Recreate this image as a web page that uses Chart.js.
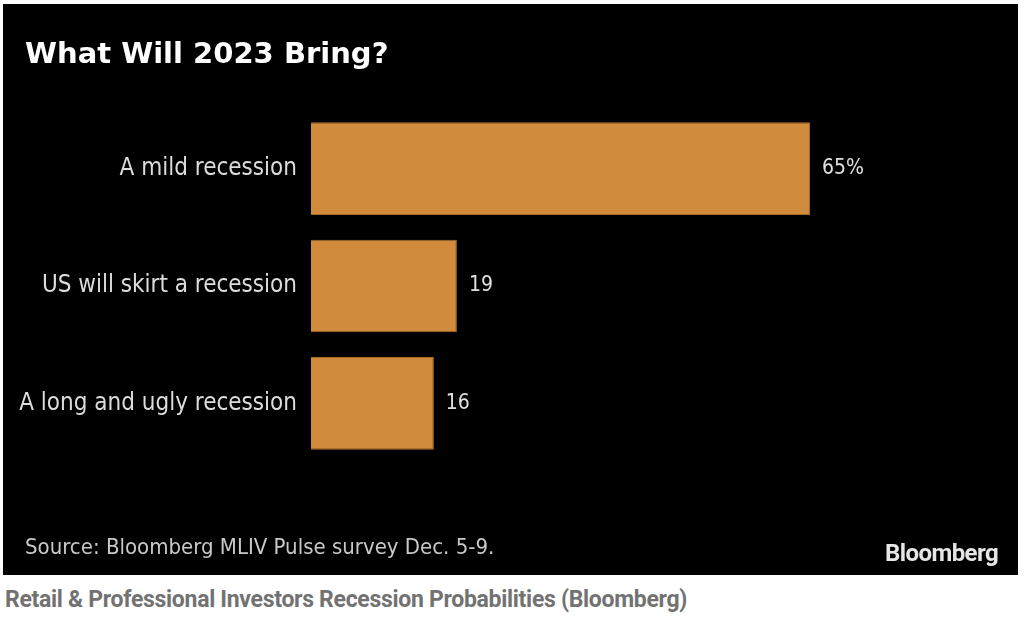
<!DOCTYPE html>
<html>
<head>
<meta charset="utf-8">
<script src="https://cdn.jsdelivr.net/npm/chart.js@4"></script>
<style>
  html, body { margin: 0; padding: 0; background: #fff; width: 1024px; height: 618px; overflow: hidden; }
  #panel { position: absolute; left: 3px; top: 4px; width: 1015px; height: 571px; background: #000; }
  #chart { position: absolute; left: 0; top: 0; }
  #title { position: absolute; left: 22px; top: 32px; color: #fff; font: bold 29px "DejaVu Sans"; white-space: nowrap; }
  #source { position: absolute; left: 22px; top: 530px; color: #c8c8c8; font: 22px "DejaVu Sans Condensed"; white-space: nowrap; }
  #logo { position: absolute; right: 20px; top: 535px; color: #e6e6e6; font: bold 24px Roboto; letter-spacing: -0.6px; }
  #caption { position: absolute; left: 5px; top: 586px; color: #727272; font: bold 23px Roboto; white-space: nowrap; letter-spacing: -0.3px; }
</style>
</head>
<body>
<div id="panel">
  <canvas id="chart" width="1015" height="571"></canvas>
  <div id="title">What Will 2023 Bring?</div>
  <div id="source">Source: Bloomberg MLIV Pulse survey Dec. 5-9.</div>
  <div id="logo">Bloomberg</div>
</div>
<div id="caption">Retail &amp; Professional Investors Recession Probabilities (Bloomberg)</div>
<script>
const answers = ['A mild recession', 'US will skirt a recession', 'A long and ugly recession'];
const shares = [65, 19, 16];
const valueLabels = ['65%', '19', '16'];

// writes the number just right of each bar
const valuePlugin = {
  id: 'values',
  afterDatasetsDraw(chart) {
    const ctx = chart.ctx;
    ctx.save();
    ctx.fillStyle = '#e0e0e0';
    ctx.font = '21px "DejaVu Sans Condensed"';
    ctx.textBaseline = 'middle';
    ctx.textAlign = 'left';
    chart.getDatasetMeta(0).data.forEach((bar, i) => {
      ctx.fillText(valueLabels[i], bar.x + 12, bar.y);
    });
    ctx.restore();
  }
};

new Chart(document.getElementById('chart'), {
  type: 'bar',
  data: {
    labels: answers,
    datasets: [{
      data: shares,
      backgroundColor: '#d08c3c',
      borderColor: '#a86c28',
      borderWidth: 1,
      barPercentage: 0.79,
      categoryPercentage: 1
    }]
  },
  options: {
    indexAxis: 'y',
    responsive: false,
    devicePixelRatio: 1,
    animation: false,
    layout: { padding: { top: 106, bottom: 113, right: 16, left: 0 } },
    plugins: { legend: { display: false }, tooltip: { enabled: false } },
    scales: {
      x: { display: false, min: 0, max: 90 },
      y: {
        grid: { display: false },
        border: { display: false },
        ticks: { color: '#dcdcdc', padding: 6, font: { family: 'DejaVu Sans Condensed', size: 24 } },
        afterFit(scale) { scale.width = 308; }
      }
    }
  },
  plugins: [valuePlugin]
});
</script>
</body>
</html>
